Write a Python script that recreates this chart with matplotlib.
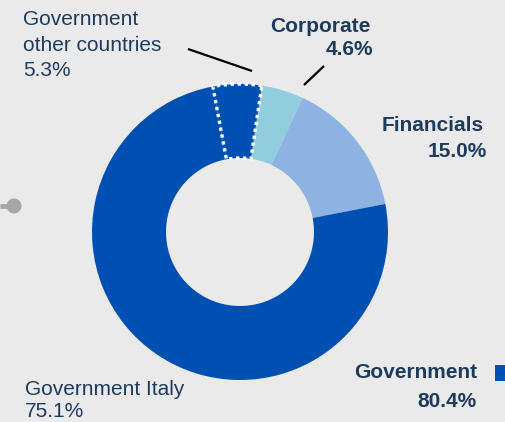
import matplotlib
matplotlib.use("Agg")
import matplotlib.pyplot as plt
from matplotlib.patches import Circle, Rectangle

plt.rcParams['font.family'] = ['Liberation Sans', 'DejaVu Sans']

# Portfolio breakdown (%), clockwise from the top
segments = ["Corporate", "Financials", "Government Italy", "Government other countries"]
shares = [4.6, 15.0, 75.1, 5.3]
government_total = 80.4

BG = '#eaeaea'
NAVY = '#1d3b5e'
GOV_BLUE = '#0050b3'
colors = ['#92cddd', '#8db3e2', GOV_BLUE, GOV_BLUE]

W, H = 506, 422
fig = plt.figure(figsize=(W / 100, H / 100), dpi=100, facecolor=BG)
ax = fig.add_axes([0, 0, 1, 1])
ax.set_facecolor(BG)


def Y(y):
    """Convert a top-down pixel row to data y."""
    return H - y


cx, cy, R = 240, 232, 148
wedges, _ = ax.pie(shares, colors=colors, startangle=81.5, counterclock=False,
                   center=(cx, Y(cy)), radius=R,
                   wedgeprops=dict(width=R / 2, edgecolor='none', linewidth=0))

# highlight the non-Italian government slice with a white dotted outline
other = wedges[3]
other.set_edgecolor('white')
other.set_linewidth(2.4)
other.set_linestyle((0, (1, 1.1)))
other.set_zorder(5)

ax.set_xlim(0, W)
ax.set_ylim(0, H)
ax.set_aspect('equal')
ax.axis('off')

fs = 15
# left-hand labels
ax.text(23, Y(25), "Government", color=NAVY, fontsize=fs, ha='left', va='baseline')
ax.text(23, Y(51), "other countries", color=NAVY, fontsize=fs, ha='left', va='baseline')
ax.text(23, Y(76), f"{shares[3]:.1f}%", color=NAVY, fontsize=fs, ha='left', va='baseline')

ax.text(25, Y(395), segments[2], color=NAVY, fontsize=fs, ha='left', va='baseline')
ax.text(25, Y(417), f"{shares[2]:.1f}%", color=NAVY, fontsize=fs, ha='left', va='baseline')

# right-hand bold labels
ax.text(371, Y(32), segments[0], color=NAVY, fontsize=fs, fontweight='bold', ha='right', va='baseline')
ax.text(373, Y(55), f"{shares[0]:.1f}%", color=NAVY, fontsize=fs, fontweight='bold', ha='right', va='baseline')

ax.text(484, Y(131), segments[1], color=NAVY, fontsize=fs, fontweight='bold', ha='right', va='baseline')
ax.text(487, Y(157), f"{shares[1]:.1f}%", color=NAVY, fontsize=fs, fontweight='bold', ha='right', va='baseline')

ax.text(477, Y(378), "Government", color=NAVY, fontsize=fs, fontweight='bold', ha='right', va='baseline')
ax.text(477, Y(407), f"{government_total:.1f}%", color=NAVY, fontsize=fs, fontweight='bold', ha='right', va='baseline')

# leader lines
ax.plot([188, 252], [Y(49), Y(71)], color='black', lw=1.6, solid_capstyle='butt')
ax.plot([324, 304], [Y(66), Y(85)], color='black', lw=1.6, solid_capstyle='butt')

# connector stub on the left edge
ax.plot([0, 14], [Y(206), Y(206)], color='#a6a6a6', lw=3.4, solid_capstyle='butt')
ax.add_patch(Circle((14, Y(206)), 7.5, color='#a6a6a6', lw=0))

# legend swatch for the government total
ax.add_patch(Rectangle((495, Y(381)), 16, 16, color=GOV_BLUE, lw=0))

fig.savefig('out.png', dpi=100, facecolor=BG)
